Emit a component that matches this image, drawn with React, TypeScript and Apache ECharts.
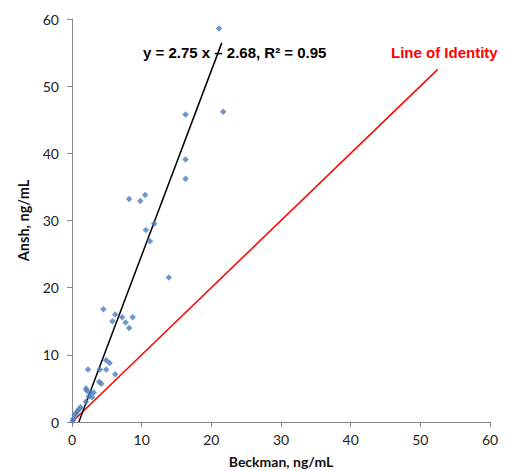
import React, { useEffect, useRef } from "react";
import * as echarts from "echarts";

const beckman = [
  21.1, 21.7, 16.3, 16.3, 16.3,
  10.5, 9.8, 8.2, 11.8, 10.6, 11.2, 13.9,
  4.5, 6.2, 5.8, 7.2, 8.7, 7.7, 8.2,
  4.9, 5.4, 2.3, 4.0, 4.9, 6.2, 3.9, 4.2,
  2.0, 2.1, 2.6, 3.1, 2.4, 2.9, 2.0, 1.25, 1.0, 0.76, 0.57, 0.39, 0.19, 0.1,
];
const ansh = [
  58.6, 46.2, 45.8, 39.1, 36.2,
  33.8, 32.9, 33.2, 29.5, 28.6, 26.9, 21.5,
  16.8, 16.0, 15.0, 15.6, 15.6, 14.8, 14.0,
  9.2, 8.8, 7.8, 7.8, 7.8, 7.1, 6.0, 5.7,
  5.0, 4.7, 4.3, 4.4, 3.8, 3.7, 3.0, 2.2, 1.9, 1.6, 1.3, 1.0, 0.5, 0.2,
];
const fitSlope = 2.75;
const fitIntercept = -2.68;
const fitXRange = [0.98, 21.5];
const identityRange = [0, 52.5];
const axisTicks = [0, 10, 20, 30, 40, 50, 60];
const equationLabel = "y = 2.75 x \u2013 2.68, R\u00b2 = 0.95";
const identityLabel = "Line of Identity";

export default function App() {
  const ref = useRef<HTMLDivElement>(null);
  useEffect(() => {
    if (!ref.current) return;
    const chart = echarts.init(ref.current, undefined, { renderer: "svg" });
    const points = beckman.map((x, i) => [x, ansh[i]]);
    const fitLine = fitXRange.map((x) => [x, fitSlope * x + fitIntercept]);
    const identityLine = identityRange.map((x) => [x, x]);
    const axisCommon = {
      min: axisTicks[0],
      max: axisTicks[axisTicks.length - 1],
      interval: 10,
      splitLine: { show: false },
      axisLine: { show: true, lineStyle: { color: "#868686", width: 1 } },
      axisTick: { show: true, length: 5, lineStyle: { color: "#868686" } },
      axisLabel: { color: "#222", fontSize: 14, fontFamily: "Lato" },
      nameLocation: "middle" as const,
      nameTextStyle: {
        color: "#111",
        fontSize: 14,
        fontWeight: "bold" as const,
        fontFamily: "Lato",
      },
    };
    chart.setOption({
      animation: false,
      grid: { left: 72, right: 17, top: 19, bottom: 49, containLabel: false, outerBoundsMode: "none" },
      xAxis: { ...axisCommon, type: "value", name: "Beckman, ng/mL", nameGap: 32, axisLabel: { ...axisCommon.axisLabel, margin: 10 } },
      yAxis: { ...axisCommon, type: "value", name: "Ansh, ng/mL", nameGap: 41, nameTextStyle: { ...axisCommon.nameTextStyle, fontSize: 14.5 }, axisLabel: { ...axisCommon.axisLabel, margin: 13 } },
      series: [
        {
          type: "line",
          data: identityLine,
          symbol: "none",
          lineStyle: { color: "#ff0000", width: 1.5 },
          z: 2,
        },
        {
          type: "line",
          data: fitLine,
          symbol: "none",
          lineStyle: { color: "#000000", width: 1.5 },
          z: 3,
        },
        {
          type: "scatter",
          data: points,
          symbol: "diamond",
          symbolSize: 6.5,
          itemStyle: { color: "#4a7ebb" },
          z: 4,
        },
      ],
      graphic: [
        {
          type: "text",
          left: 143,
          top: 45,
          style: {
            text: equationLabel,
            fill: "#000",
            font: "bold 15px 'Liberation Sans', Arial, sans-serif",
          },
        },
        {
          type: "text",
          left: 391,
          top: 45,
          style: {
            text: identityLabel,
            fill: "#ff0000",
            font: "bold 15px 'Liberation Sans', Arial, sans-serif",
          },
        },
      ],
    });
    return () => chart.dispose();
  }, []);
  return <div ref={ref} style={{ width: 507, height: 471, position: "absolute", left: 0, top: 0 }} />;
}
